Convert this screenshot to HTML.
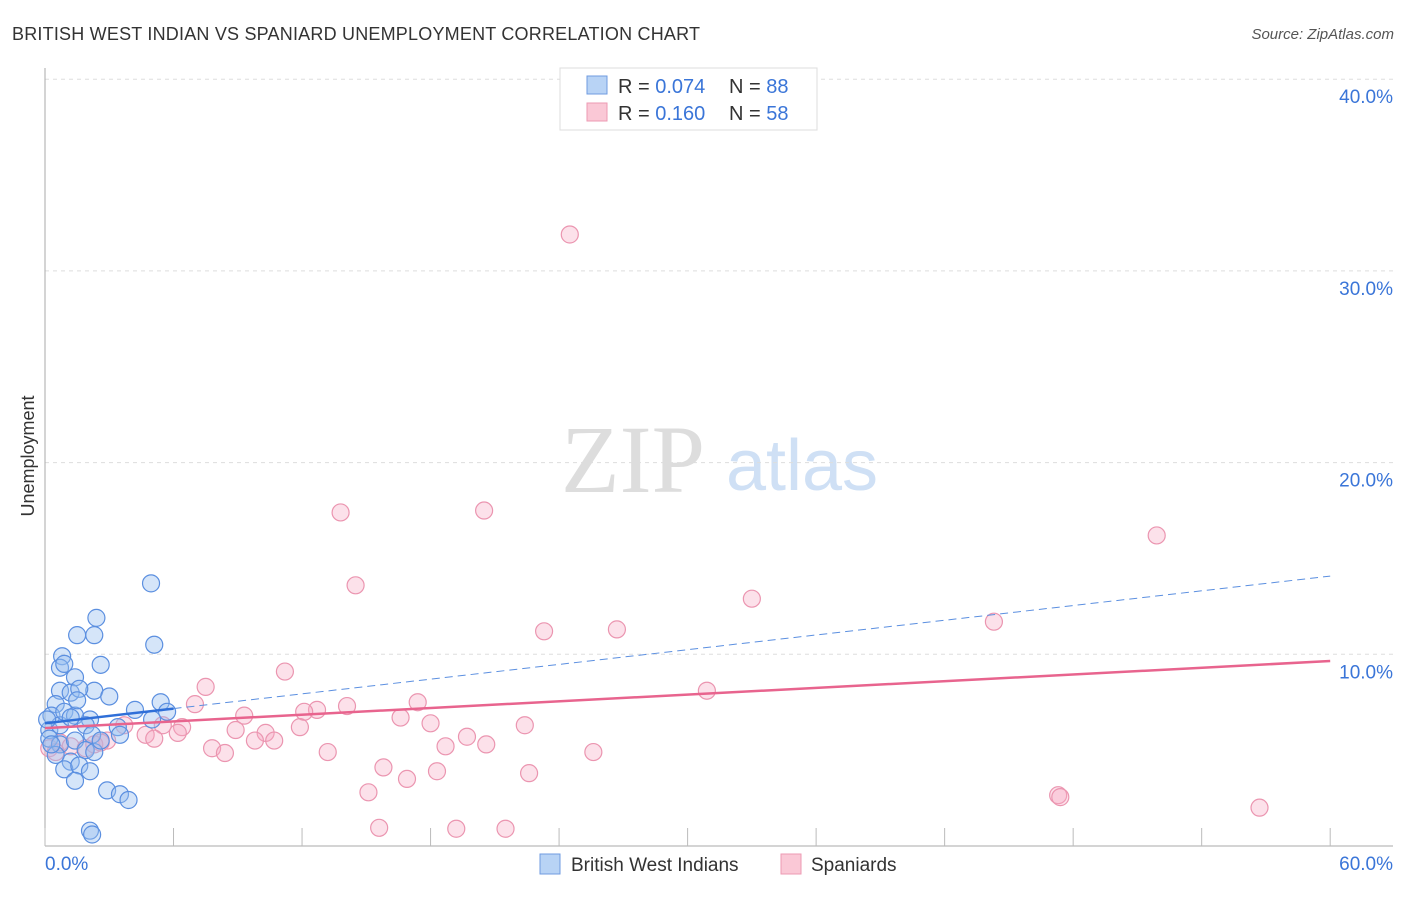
<!DOCTYPE html>
<html><head><meta charset="utf-8"><style>
body{margin:0;background:#fff;font-family:"Liberation Sans",sans-serif;}
</style></head><body>
<svg id="chart" width="1406" height="892" font-family="Liberation Sans, sans-serif">
<text x="12" y="40" font-size="18" fill="#333" textLength="688">BRITISH WEST INDIAN VS SPANIARD UNEMPLOYMENT CORRELATION CHART</text>
<text x="1394" y="39" font-size="15" fill="#555" text-anchor="end" font-style="italic">Source: ZipAtlas.com</text>
<text x="633" y="492" font-size="96" fill="#ddd" text-anchor="middle" style="font-family:'Liberation Serif',serif">ZIP</text>
<text x="802" y="490" font-size="72" fill="#cfe0f5" text-anchor="middle">atlas</text>
<text transform="translate(34,456) rotate(-90)" font-size="18" fill="#333" text-anchor="middle">Unemployment</text>
<g id="grid"></g><g id="pts"></g><g id="lines"></g>
<g>
<rect x="560" y="68" width="257" height="62" fill="#fff" stroke="#ddd"/>
<rect x="587" y="76" width="20" height="18" fill="#b8d3f5" stroke="#6f9be0"/>
<rect x="587" y="103" width="20" height="18" fill="#fac8d6" stroke="#ec9ab3"/>
<text x="618" y="93" font-size="20" fill="#333">R = <tspan fill="#3a75d8">0.074</tspan></text>
<text x="729" y="93" font-size="20" fill="#333">N = <tspan fill="#3a75d8">88</tspan></text>
<text x="618" y="120" font-size="20" fill="#333">R = <tspan fill="#3a75d8"> 0.160</tspan></text>
<text x="729" y="120" font-size="20" fill="#333">N = <tspan fill="#3a75d8">58</tspan></text>
</g>
<g>
<rect x="540" y="854" width="20" height="20" fill="#b8d3f5" stroke="#6f9be0"/>
<text x="571" y="871" font-size="19" fill="#333">British West Indians</text>
<rect x="781" y="854" width="20" height="20" fill="#fac8d6" stroke="#ec9ab3"/>
<text x="811" y="871" font-size="19" fill="#333">Spaniards</text>
</g>
</svg>
<script>
const yTicks=[10,20,30,40];
const yTickLabels=["10.0%","20.0%","30.0%","40.0%"];
const xTickLabels=["0.0%","60.0%"];
const blueX=[4.95,2.4,1.5,2.3,5.1,0.8,0.7,0.9,2.6,1.4,2.3,3.0,0.7,1.2,1.6,5.4,4.2,5.7,5.0,2.1,3.4,0.5,0.3,0.2,0.2,0.7,1.4,1.9,2.3,1.2,0.9,1.6,1.4,2.1,2.9,3.5,3.9,2.1,2.2,0.7,0.9,1.4,1.9,2.2,2.6,1.5,1.2,0.5,0.1,0.3,3.5];
const blueY=[13.7,11.9,11.0,11.0,10.5,9.9,9.3,9.5,9.45,8.8,8.1,7.8,8.1,8.0,8.2,7.5,7.1,7.0,6.6,6.6,6.2,7.4,6.8,6.05,5.6,5.3,5.5,5.0,4.9,4.4,4.0,4.2,3.4,3.9,2.9,2.7,2.4,0.8,0.6,6.3,7.0,6.8,6.3,5.8,5.5,7.6,6.7,4.75,6.6,5.3,5.8];
const pinkX=[24.5,13.8,20.5,51.9,14.5,33.0,23.3,26.7,44.3,11.2,7.5,30.9,7.0,17.4,12.7,14.1,12.1,9.3,16.6,18.0,11.9,8.9,22.4,19.7,6.4,5.5,3.7,10.3,4.7,6.2,5.1,2.9,7.8,8.4,9.8,10.7,13.2,18.7,20.6,25.6,15.8,18.3,16.9,22.6,15.1,47.3,47.4,56.7,15.6,19.2,21.5,0.2,0.7,1.2,1.9,2.3,0.5,2.6];
const pinkY=[31.9,17.4,17.5,16.2,13.6,12.9,11.2,11.3,11.7,9.1,8.3,8.1,7.4,7.5,7.1,7.3,7.0,6.8,6.7,6.4,6.2,6.05,6.3,5.7,6.2,6.3,6.3,5.9,5.8,5.9,5.6,5.5,5.1,4.85,5.5,5.5,4.9,5.2,5.3,4.9,4.1,3.9,3.5,3.8,2.8,2.65,2.55,2.0,0.95,0.9,0.9,5.1,5.4,5.2,5.1,5.3,4.9,5.4];
const blueFit=[6.4,0.128];
const pinkFit=[6.15,0.0583];
const NS="http://www.w3.org/2000/svg";
const X=v=>45+v*21.42, Y=v=>846-v*19.17;
function mk(t,a,p){const e=document.createElementNS(NS,t);for(const k in a)e.setAttribute(k,a[k]);p.appendChild(e);return e;}
const g=document.getElementById('grid');
yTicks.forEach((t,i)=>{
 const l=mk('line',{x1:45,x2:1393,y1:Y(t),y2:Y(t),stroke:'#ddd','stroke-dasharray':'4,4'},g);
 
 
 const tx=mk('text',{x:1393,y:Y(t)+24,'font-size':19,fill:'#3a75d8','text-anchor':'end'},g);
 tx.textContent=yTickLabels[i];
 
 
});
const ax=mk('line',{x1:45,x2:45,y1:68,y2:846,stroke:'#aaa'},g);


const bx=mk('line',{x1:45,x2:1393,y1:846,y2:846,stroke:'#aaa'},g);


for(let i=0;i<=10;i++){const t=mk('line',{x1:X(i*6),x2:X(i*6),y1:828,y2:846,stroke:'#bbb'},g);
 
 }
[[0,'start',45],[60,'end',1393]].forEach((d,i)=>{const t=mk('text',{x:d[2],y:870,'font-size':19,fill:'#3a75d8','text-anchor':d[1]},g);t.textContent=xTickLabels[i];
 
 });
const p=document.getElementById('pts');
pinkX.forEach((x,i)=>{const c=mk('circle',{cx:X(x),cy:Y(pinkY[i]),r:8.5,fill:'rgba(245,170,195,0.35)',stroke:'#eb95b0','stroke-width':1.2},p);
 
 });
blueX.forEach((x,i)=>{const c=mk('circle',{cx:X(x),cy:Y(blueY[i]),r:8.5,fill:'rgba(150,190,240,0.4)',stroke:'#5b8fe0','stroke-width':1.2},p);
 
 });
const L=document.getElementById('lines');
const b1=mk('line',{x1:X(0),y1:Y(blueFit[0]),x2:X(6),y2:Y(blueFit[0]+6*blueFit[1]),stroke:'#2f6fd8','stroke-width':2.5},L);


const b2=mk('line',{x1:X(6),y1:Y(blueFit[0]+6*blueFit[1]),x2:X(60),y2:Y(blueFit[0]+60*blueFit[1]),stroke:'#5b8fe0','stroke-width':1,'stroke-dasharray':'8,5'},L);


const p1=mk('line',{x1:X(0),y1:Y(pinkFit[0]),x2:X(60),y2:Y(pinkFit[0]+60*pinkFit[1]),stroke:'#e8648e','stroke-width':2.5},L);


</script>
</body></html>
